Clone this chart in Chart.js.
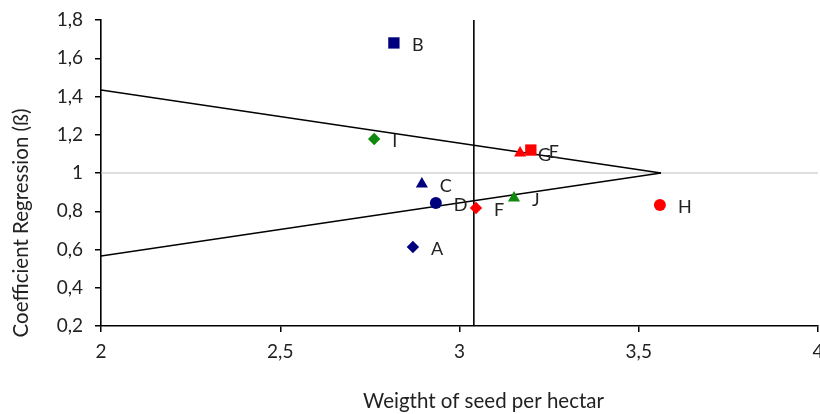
<!DOCTYPE html>
<html>
<head>
<meta charset="utf-8">
<script src="https://cdn.jsdelivr.net/npm/chart.js@4/dist/chart.umd.min.js"></script>
<style>
  html, body { margin: 0; padding: 0; background: #fff; }
  #wrap { width: 820px; height: 414px; }
</style>
</head>
<body>
<div id="wrap"><canvas id="chart"></canvas></div>
<script>
// genotypes and their values
const pointNames = ["A", "B", "C", "D", "E", "F", "G", "H", "I", "J"];
const seedWeight = [2.87, 2.817, 2.895, 2.934, 3.199, 3.046, 3.169, 3.559, 2.762, 3.152];
const coefRegression = [0.613, 1.68, 0.942, 0.843, 1.12, 0.817, 1.105, 0.833, 1.178, 0.869];

// reference lines
const coneX = [2, 3.562];
const coneUpper = [1.434, 1.0];
const coneLower = [0.566, 1.0];
const meanWeight = 3.04;
const unitCoef = 1;

const xTicks = [2, 2.5, 3, 3.5, 4];
const yTicks = [0.2, 0.4, 0.6, 0.8, 1, 1.2, 1.4, 1.6, 1.8];

const xTitle = "Weigtht of seed per hectar";
const yTitle = "Coefficient Regression (ß)";

// marker styles (by point name)
const NAVY = "#00007f", RED = "#ff0000", GREEN = "#0f8a0f";
const markerStyle = {
  A: [NAVY, "rectRot"], B: [NAVY, "rect"], C: [NAVY, "triangle"], D: [NAVY, "circle"],
  E: [RED, "rect"], F: [RED, "rectRot"], G: [RED, "triangle"], H: [RED, "circle"],
  I: [GREEN, "rectRot"], J: [GREEN, "triangle"]
};
const markerRadius = { rect: 8, rectRot: 6.2, triangle: 7, circle: 6 };
const FONT = "Lato";
const TEXT = "#222";

const fmt = v => String(Number(v.toFixed(1))).replace(".", ",");

const pointLabels = {
  id: "pointLabels",
  afterDatasetsDraw(chart) {
    const meta = chart.getDatasetMeta(0);
    const c = chart.ctx;
    c.save();
    c.font = "18px " + FONT;
    c.fillStyle = TEXT;
    c.textAlign = "left";
    c.textBaseline = "middle";
    meta.data.forEach((pt, i) => {
      c.fillText(pointNames[i], pt.x + 18, pt.y + 2);
    });
    c.restore();
  }
};

// axis titles, placed like the excel original (a bit off the axis centre)
const axisTitles = {
  id: "axisTitles",
  afterDraw(chart) {
    const c = chart.ctx;
    const area = chart.chartArea;
    c.save();
    c.font = "20.5px " + FONT;
    c.fillStyle = TEXT;
    c.textAlign = "center";
    c.textBaseline = "middle";
    c.fillText(xTitle, (area.left + area.right) / 2 + 24, 401);
    c.translate(21, (area.top + area.bottom) / 2 + 50);
    c.rotate(-Math.PI / 2);
    c.fillText(yTitle, 0, 0);
    c.restore();
  }
};

const ctx = document.getElementById("chart").getContext("2d");

new Chart(ctx, {
  type: "scatter",
  data: {
    datasets: [
      {
        label: "points",
        data: pointNames.map((n, i) => ({ x: seedWeight[i], y: coefRegression[i] })),
        pointStyle: c => markerStyle[pointNames[c.dataIndex]][1],
        backgroundColor: c => markerStyle[pointNames[c.dataIndex]][0],
        borderColor: c => markerStyle[pointNames[c.dataIndex]][0],
        borderWidth: 0,
        pointRadius: c => markerRadius[markerStyle[pointNames[c.dataIndex]][1]],
        pointHoverRadius: c => markerRadius[markerStyle[pointNames[c.dataIndex]][1]],
        order: 1
      },
      {
        label: "upper",
        data: coneX.map((x, i) => ({ x, y: coneUpper[i] })),
        showLine: true, borderColor: "#000", borderWidth: 1.6, pointRadius: 0, order: 2
      },
      {
        label: "lower",
        data: coneX.map((x, i) => ({ x, y: coneLower[i] })),
        showLine: true, borderColor: "#000", borderWidth: 1.6, pointRadius: 0, order: 2
      },
      {
        label: "mean",
        data: [{ x: meanWeight, y: yTicks[0] }, { x: meanWeight, y: yTicks[yTicks.length - 1] }],
        showLine: true, borderColor: "#000", borderWidth: 1.6, pointRadius: 0, order: 2
      },
      {
        label: "unit",
        data: [{ x: xTicks[0], y: unitCoef }, { x: xTicks[xTicks.length - 1], y: unitCoef }],
        showLine: true, borderColor: "#bdbdbd", borderWidth: 1, pointRadius: 0, order: 3
      }
    ]
  },
  options: {
    responsive: true,
    maintainAspectRatio: false,
    animation: false,
    layout: { autoPadding: false, padding: { top: 20, right: 2, left: 0, bottom: 0 } },
    plugins: { legend: { display: false }, tooltip: { enabled: false } },
    scales: {
      x: {
        type: "linear",
        min: 2, max: 4,
        afterBuildTicks: s => { s.ticks = xTicks.map(v => ({ value: v })); },
        afterFit: s => { s.height = 88; s.paddingRight = 0; s.paddingLeft = 0; },
        ticks: { callback: fmt, color: TEXT, font: { family: FONT, size: 19 }, padding: 8, maxRotation: 0 },
        grid: { drawOnChartArea: false, color: "#000", tickLength: 6, lineWidth: 1.5 },
        border: { color: "#000", width: 1.6 }
      },
      y: {
        type: "linear",
        min: 0.2, max: 1.8,
        afterBuildTicks: s => { s.ticks = yTicks.map(v => ({ value: v })); },
        afterFit: s => { s.width = 101; s.paddingTop = 0; s.paddingBottom = 0; },
        ticks: { callback: fmt, color: TEXT, font: { family: FONT, size: 19 }, padding: 12 },
        grid: { drawOnChartArea: false, color: "#000", tickLength: 6, lineWidth: 1.5 },
        border: { color: "#000", width: 1.6 }
      }
    }
  },
  plugins: [pointLabels, axisTitles]
});
</script>
</body>
</html>
